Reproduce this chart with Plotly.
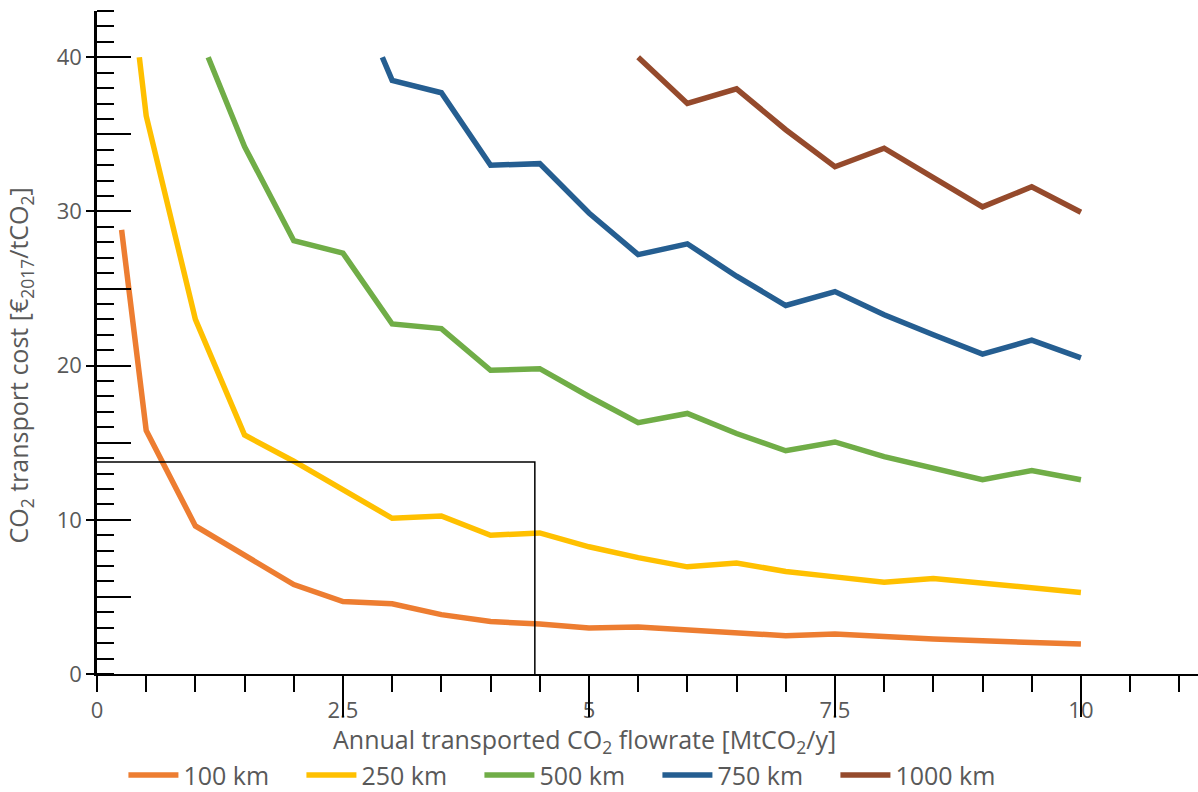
import plotly.graph_objects as go

# ---- data ----
x_100 = [0.25, 0.5, 1.0, 1.5, 2.0, 2.5, 3.0, 3.5, 4.0, 4.5, 5.0, 5.5, 6.0, 6.5, 7.0, 7.5, 8.0, 8.5, 9.0, 9.5, 10.0]
y_100 = [28.8, 15.8, 9.6, 7.7, 5.8, 4.7, 4.55, 3.85, 3.4, 3.25, 2.98, 3.05, 2.85, 2.62, 2.48, 2.6, 2.4, 2.27, 2.15, 2.07, 1.95]

x_250 = [0.43, 0.5, 1.0, 1.5, 2.0, 2.5, 3.0, 3.5, 4.0, 4.5, 5.0, 5.5, 6.0, 6.5, 7.0, 7.5, 8.0, 8.5, 9.0, 9.5, 10.0]
y_250 = [40.0, 36.2, 23.0, 15.5, 13.8, 11.95, 10.1, 10.25, 9.0, 9.15, 8.25, 7.55, 6.95, 7.2, 6.65, 6.3, 5.95, 6.2, 5.9, 5.6, 5.28]

x_500 = [1.13, 1.5, 2.0, 2.5, 3.0, 3.5, 4.0, 4.5, 5.0, 5.5, 6.0, 6.5, 7.0, 7.5, 8.0, 8.5, 9.0, 9.5, 10.0]
y_500 = [40.0, 34.2, 28.1, 27.3, 22.7, 22.4, 19.7, 19.8, 18.0, 16.3, 16.9, 15.6, 14.48, 15.05, 14.1, 13.35, 12.6, 13.2, 12.6]

x_750 = [2.9, 3.0, 3.5, 4.0, 4.5, 5.0, 5.5, 6.0, 6.5, 7.0, 7.5, 8.0, 8.5, 9.0, 9.5, 10.0]
y_750 = [40.0, 38.5, 37.7, 33.0, 33.1, 29.9, 27.2, 27.9, 25.8, 23.9, 24.8, 23.3, 22.0, 20.75, 21.65, 20.5]

x_1000 = [5.5, 6.0, 6.5, 7.0, 7.5, 8.0, 8.5, 9.0, 9.5, 10.0]
y_1000 = [40.0, 37.0, 37.95, 35.3, 32.9, 34.1, 32.2, 30.3, 31.6, 29.95]

series_names = ["100 km", "250 km", "500 km", "750 km", "1000 km"]
series_colors = ["#ED7D31", "#FFC000", "#70AD47", "#255E91", "#954A2C"]

# highlighted box (reference lines)
box_x = [0.0, 4.45, 4.45]
box_y = [13.75, 13.75, 0.0]

x_ticks = [0, 2.5, 5, 7.5, 10]
x_tick_text = ["0", "2.5", "5", "7.5", "10"]
y_ticks = [0, 10, 20, 30, 40]

X_RANGE = [0, 11.19]
Y_RANGE = [0, 43]

GRAY = "#595959"
FONT = "Open Sans"

fig = go.Figure()

xs = [x_100, x_250, x_500, x_750, x_1000]
ys = [y_100, y_250, y_500, y_750, y_1000]
for xv, yv, name, col in zip(xs, ys, series_names, series_colors):
    fig.add_trace(go.Scatter(x=xv, y=yv, name=name, mode="lines",
                             line=dict(color=col, width=5.5), hoverinfo="skip"))

fig.add_trace(go.Scatter(x=box_x, y=box_y, mode="lines", showlegend=False,
                         line=dict(color="black", width=1.5), hoverinfo="skip"))

# dummy trace for the overlay axes (long tick marks)
fig.add_trace(go.Scatter(x=[0], y=[0], xaxis="x2", yaxis="y2", mode="markers",
                         marker=dict(opacity=0), showlegend=False, hoverinfo="skip"))

fig.update_layout(
    width=1198, height=792, autosize=False,
    margin=dict(l=97, r=0, t=11, b=118, autoexpand=False),
    paper_bgcolor="white", plot_bgcolor="white",
    font=dict(family=FONT, color=GRAY, size=20),
    xaxis=dict(range=X_RANGE, showgrid=False, zeroline=False,
               showline=True, linecolor="black", linewidth=2,
               tickmode="array", tickvals=x_ticks, ticktext=x_tick_text,
               ticks="outside", ticklen=16, tickwidth=2, tickcolor="black",
               ticklabelstandoff=0,
               tickfont=dict(family=FONT, size=22, color=GRAY),
               minor=dict(ticks="outside", dtick=0.5, tick0=0, ticklen=16,
                          tickwidth=2, tickcolor="black", showgrid=False)),
    yaxis=dict(range=Y_RANGE, showgrid=False, zeroline=False,
               showline=True, linecolor="black", linewidth=2.5,
               tickmode="array", tickvals=y_ticks,
               ticks="outside", ticklen=8, tickwidth=2, tickcolor="black",
               ticklabelstandoff=0,
               tickfont=dict(family=FONT, size=22, color=GRAY),
               minor=dict(ticks="inside", dtick=1, tick0=0, ticklen=17,
                          tickwidth=2, tickcolor="black", showgrid=False)),
    xaxis2=dict(range=X_RANGE, overlaying="x", anchor="y2", side="bottom",
                showgrid=False, zeroline=False, showline=False,
                tickmode="array", tickvals=[2.5, 5, 7.5, 10],
                ticks="outside", ticklen=42, tickwidth=2, tickcolor="black",
                showticklabels=False),
    yaxis2=dict(range=Y_RANGE, overlaying="y", anchor="x2", side="left",
                showgrid=False, zeroline=False, showline=False,
                tickmode="linear", tick0=0, dtick=5,
                ticks="inside", ticklen=34, tickwidth=2, tickcolor="black",
                showticklabels=False),
    legend=dict(orientation="h", x=0.024, xanchor="left", y=-0.1526, yanchor="middle",
                font=dict(family=FONT, size=25, color=GRAY),
                entrywidth=113, entrywidthmode="pixels",
                bgcolor="rgba(0,0,0,0)", itemwidth=50),
    annotations=[
        dict(text="Annual transported CO<sub>2</sub> flowrate [MtCO<sub>2</sub>/y]",
             xref="x", yref="paper", x=4.95, y=-0.101, xanchor="center", yanchor="middle",
             showarrow=False, font=dict(family=FONT, size=25, color=GRAY)),
        dict(text="CO<sub>2</sub> transport cost [€<sub>2017</sub>/tCO<sub>2</sub>]",
             xref="paper", yref="y", x=-0.07, y=20, xanchor="center", yanchor="middle",
             textangle=-90, showarrow=False, font=dict(family=FONT, size=25, color=GRAY)),
    ],
)

fig.write_html("out.html", config={"displayModeBar": False},
               post_script="document.body.style.margin='0';")
